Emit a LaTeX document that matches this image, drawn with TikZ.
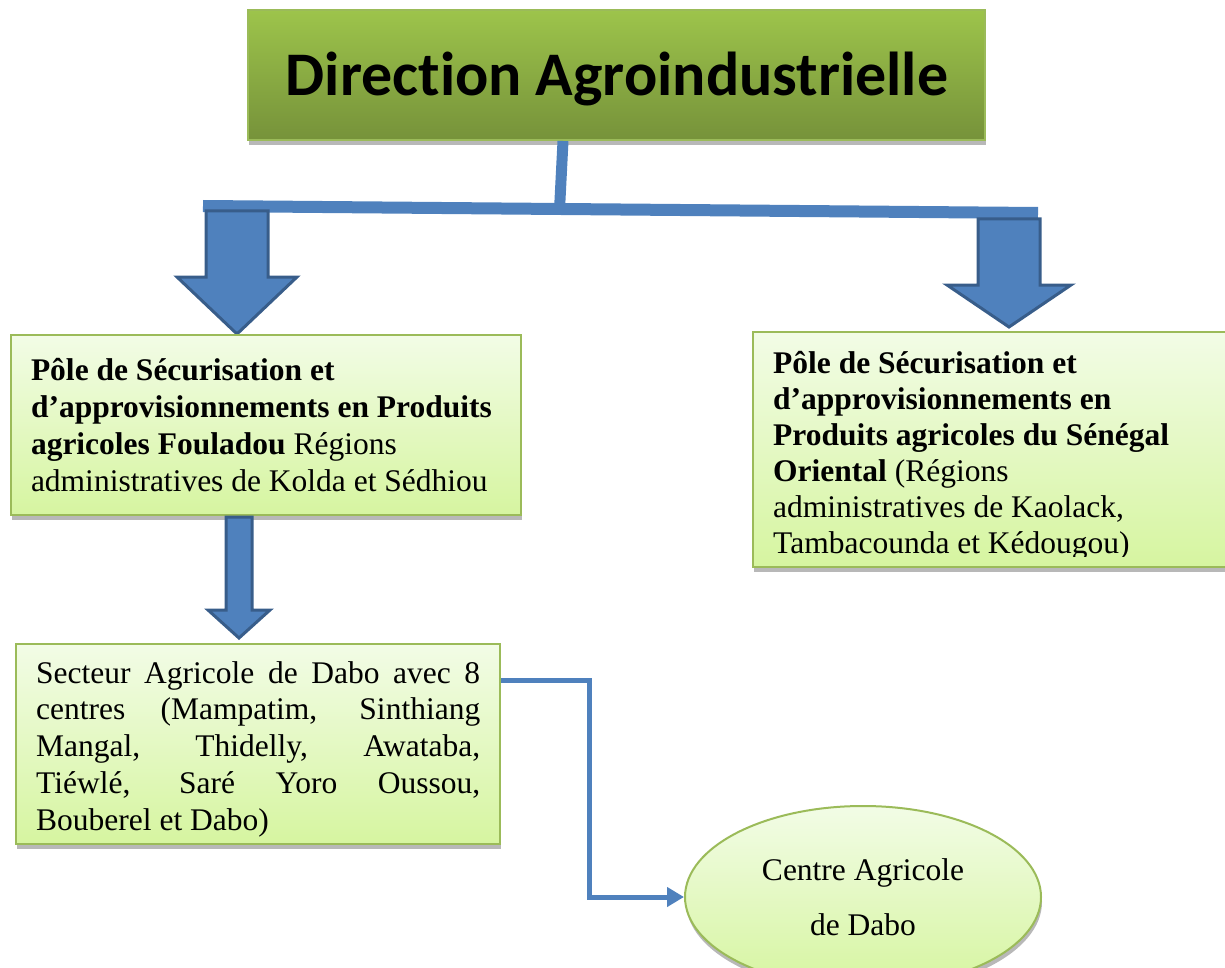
\documentclass[tikz,border=0pt]{standalone}
\usepackage{fontspec}
\setmainfont{Liberation Serif}
\newfontfamily\titlefont[Ligatures=NoCommon]{Carlito}
\usetikzlibrary{shapes.geometric,shadows,arrows.meta,calc}
\definecolor{orgblue}{HTML}{4F81BD}
\definecolor{orgblueborder}{HTML}{385D8A}
\definecolor{titletop}{HTML}{9DC44B}
\definecolor{titlebottom}{HTML}{76923A}
\definecolor{lighttop}{HTML}{F2FCE6}
\definecolor{lightbottom}{HTML}{D6F5A0}
\definecolor{boxborder}{HTML}{9BBB59}
\begin{document}
\begin{tikzpicture}[x=1pt,y=-1pt,
  softshadow/.style={drop shadow={shadow xshift=1pt,shadow yshift=-5pt,fill=black,opacity=0.28}},
  titlebox/.style={draw=boxborder, line width=1.5pt, top color=titletop, bottom color=titlebottom,
    softshadow, inner sep=0pt},
  lightbox/.style={draw=boxborder, line width=2.5pt, top color=lighttop, bottom color=lightbottom,
    softshadow, font=\fontsize{31.5}{36.7}\selectfont, inner xsep=20pt, inner ysep=0pt},
  ovalbox/.style={ellipse, draw=boxborder, line width=2pt, top color=lighttop, bottom color=lightbottom,
    softshadow, font=\fontsize{31.5}{55}\selectfont, align=center, inner sep=0pt},
  blockarrow/.style={fill=orgblue, draw=orgblueborder, line width=3pt, line join=miter},
  bar/.style={draw=orgblue, line width=12pt},
  stem/.style={draw=orgblue, line width=11pt},
  conn/.style={draw=orgblue, line width=5pt, line join=miter, -{Triangle[length=17pt,width=19pt]}}
]
\useasboundingbox (0,0) rectangle (1225,968);

% top box
\node[titlebox, minimum width=737pt, minimum height=130pt] (dir) at (616.5,75) {};
\node[font=\titlefont\bfseries\fontsize{62}{74}\selectfont, anchor=base, inner sep=0pt] (dirtext) at (617,96) {Direction Agroindustrielle};

% stem and bar
\coordinate (barL) at (203,206);
\coordinate (barR) at (1038,213);
\coordinate (junction) at ($(barL)!0.427!(barR)$);
\coordinate (stemtop) at (563,141);
\draw[stem] (stemtop) -- (junction);
\draw[bar] (barL) -- (barR);

% block arrows
\draw[blockarrow] (206,211) -- (268,211) -- (268,277) -- (297,277) -- (237,334) -- (177,277) -- (206,277) -- cycle;
\draw[blockarrow] (978,219) -- (1040,219) -- (1040,285) -- (1071,285) -- (1009,327) -- (947,285) -- (978,285) -- cycle;

% left pole box
\node[lightbox, minimum width=510pt, minimum height=180pt, text width=470pt, align=flush left] (pole1) at (266,425)
 {\textbf{Pôle de Sécurisation et\\ d’approvisionnements en Produits\\ agricoles Fouladou} Régions\\ administratives de Kolda et Sédhiou};

% right pole box (text clipped at bottom)
\node[lightbox, minimum width=479pt, minimum height=235pt] (pole2) at (992.5,449.5) {};
\begin{scope}
\clip (755,334) rectangle (1225,556);
\node[font=\fontsize{31.5}{36}\selectfont, align=flush left, anchor=north west, inner sep=0pt] (pole2text) at (773,351)
 {\textbf{Pôle de Sécurisation et}\\ \textbf{d’approvisionnements en}\\ \textbf{Produits agricoles du Sénégal}\\ \textbf{Oriental} (Régions\\ administratives de Kaolack,\\ Tambacounda et Kédougou)};
\end{scope}

% down arrow
\draw[blockarrow] (226,517) -- (252,517) -- (252,610) -- (270,610) -- (239,638) -- (208,610) -- (226,610) -- cycle;

% secteur box
\node[lightbox, minimum width=484pt, minimum height=200pt] (sect) at (258,744) {};
\node[font=\fontsize{31.5}{36.75}\selectfont, text width=444pt, align=justify, anchor=base west, inner sep=0pt] (secttext) at (36,683)
 {Secteur Agricole de Dabo avec 8\linebreak centres (Mampatim, Sinthiang\linebreak Mangal, Thidelly, Awataba,\linebreak Tiéwlé, Saré Yoro Oussou,\linebreak Bouberel et Dabo)};

% centre ellipse
\node[ovalbox, minimum width=356pt, minimum height=182pt] (centre) at (863,897) {Centre Agricole\\de Dabo};

% connector
\draw[conn] ($(sect.north east)+(0,38)$) -- ++(88,0) |- (centre.west);
\end{tikzpicture}
\end{document}
